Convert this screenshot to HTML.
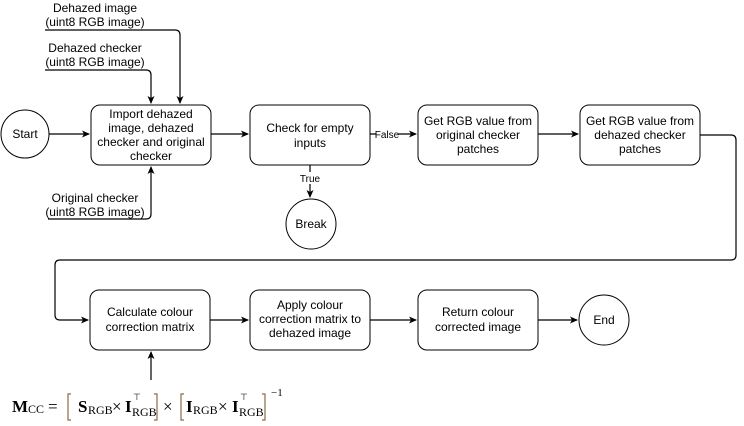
<!DOCTYPE html>
<html><head><meta charset="utf-8"><style>
body{margin:0;background:#fff;}
svg{display:block;font-family:"Liberation Sans",sans-serif;}
</style></head><body>
<svg width="744" height="426" viewBox="0 0 744 426" xmlns="http://www.w3.org/2000/svg">
<defs><marker id="a" markerWidth="8" markerHeight="8" refX="7" refY="4" orient="auto" markerUnits="userSpaceOnUse"><path d="M0,0.5 L8,4 L0,7.5 L2,4 Z" fill="#000"/></marker></defs>
<g fill="#fff" stroke="#000" stroke-width="1">
<circle cx="25" cy="134" r="24"/>
<rect x="91" y="105" width="120" height="60" rx="9"/>
<rect x="250" y="105" width="120" height="60" rx="9"/>
<rect x="418" y="105" width="120" height="60" rx="9"/>
<rect x="580" y="105" width="120" height="60" rx="9"/>
<circle cx="311" cy="224" r="25"/>
<rect x="90" y="290" width="120" height="60" rx="9"/>
<rect x="250" y="290" width="120" height="60" rx="9"/>
<rect x="418" y="290" width="120" height="60" rx="9"/>
<circle cx="604" cy="320" r="25"/>
</g>
<g fill="none" stroke="#000" stroke-width="1.2">
<path d="M49,134 H89" marker-end="url(#a)"/>
<path d="M211,134 H248" marker-end="url(#a)"/>
<path d="M370,134 H376 M398,134 H416" marker-end="url(#a)"/>
<path d="M538,134 H578" marker-end="url(#a)"/>
<path d="M310,165 V172 M310,184 V197" marker-end="url(#a)"/>
<path d="M700,135 H731 Q736,135 736,140 V255 Q736,260 731,260 H60 Q55,260 55,265 V315 Q55,320 60,320 H88" marker-end="url(#a)"/>
<path d="M210,320 H248" marker-end="url(#a)"/>
<path d="M370,320 H416" marker-end="url(#a)"/>
<path d="M538,320 H577" marker-end="url(#a)"/>
<path d="M45,30 H175 Q180,30 180,35 V103" marker-end="url(#a)"/>
<path d="M45,70 H146 Q151,70 151,75 V103" marker-end="url(#a)"/>
<path d="M48,219 H146 Q151,219 151,214 V167" marker-end="url(#a)"/>
<path d="M151,380 V352" marker-end="url(#a)"/>
</g>
<g font-size="12" fill="#000" text-anchor="middle">
<text x="25" y="138">Start</text>
<text x="151" y="118">Import dehazed</text>
<text x="151" y="132">image, dehazed</text>
<text x="151" y="146">checker and original</text>
<text x="151" y="160">checker</text>
<text x="310" y="132">Check for empty</text>
<text x="310" y="147">inputs</text>
<text x="478" y="125">Get RGB value from</text>
<text x="478" y="139">original checker</text>
<text x="478" y="153">patches</text>
<text x="640" y="125">Get RGB value from</text>
<text x="640" y="139">dehazed checker</text>
<text x="640" y="153">patches</text>
<text x="311" y="228">Break</text>
<text x="150" y="316">Calculate colour</text>
<text x="150" y="331">correction matrix</text>
<text x="310" y="309">Apply colour</text>
<text x="310" y="323">correction matrix to</text>
<text x="310" y="337">dehazed image</text>
<text x="478" y="316">Return colour</text>
<text x="478" y="331">corrected image</text>
<text x="604" y="324">End</text>
<text x="95" y="12">Dehazed image</text>
<text x="95" y="26">(uint8 RGB image)</text>
<text x="95" y="52">Dehazed checker</text>
<text x="95" y="66">(uint8 RGB image)</text>
<text x="95" y="202">Original checker</text>
<text x="95" y="216">(uint8 RGB image)</text>
</g>
<g font-size="10" fill="#000" text-anchor="middle">
<text x="387" y="138">False</text>
<text x="310" y="182">True</text>
</g>
<g font-family="Liberation Serif,serif" fill="#000">
<text x="12" y="412" font-size="17" font-weight="bold">M</text>
<text x="28" y="413" font-size="12">CC</text>
<text x="48" y="412" font-size="17">=</text>
<text x="78" y="412" font-size="17" font-weight="bold">S</text>
<text x="88" y="414" font-size="12">RGB</text>
<text x="112" y="412" font-size="17">×</text>
<text x="125" y="412" font-size="17" font-weight="bold">I</text>
<text x="132" y="416" font-size="12">RGB</text>
<text x="133" y="400" font-size="9">⊤</text>
<text x="163" y="412" font-size="17">×</text>
<text x="186" y="412" font-size="17" font-weight="bold">I</text>
<text x="193" y="414" font-size="12">RGB</text>
<text x="218" y="412" font-size="17">×</text>
<text x="232" y="412" font-size="17" font-weight="bold">I</text>
<text x="239" y="416" font-size="12">RGB</text>
<text x="240" y="400" font-size="9">⊤</text>
<text x="271" y="396" font-size="11">−1</text>
</g>
<g fill="none" stroke="#8b6b4a" stroke-width="1.2">
<path d="M71,394 H68 V420 H71"/><path d="M154,394 H157 V420 H154"/>
<path d="M184,394 H181 V420 H184"/><path d="M262,394 H265 V420 H262"/>
</g>
</svg>
</body></html>
